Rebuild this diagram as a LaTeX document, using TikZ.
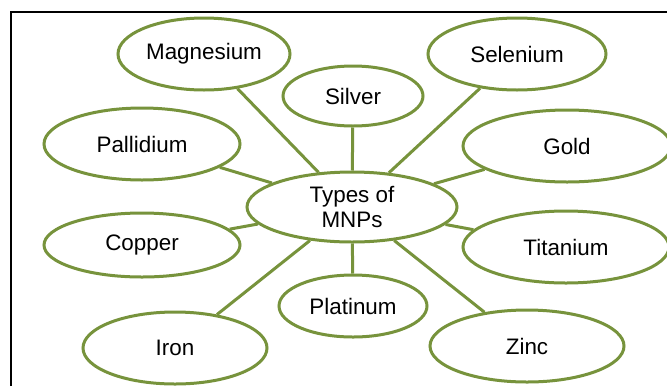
\documentclass[tikz,border=0pt]{standalone}
\usepackage{fontspec}
\setmainfont{Liberation Sans}
\usetikzlibrary{shapes.geometric}
\definecolor{mnpgreen}{HTML}{77933C}

\begin{document}
\begin{tikzpicture}[x=0.5pt,y=-0.5pt,
  metal/.style={ellipse,draw=mnpgreen,line width=1.5pt,fill=white,inner sep=0pt,
    font=\fontsize{11.2}{12.5}\selectfont,align=center},
  link/.style={draw=mnpgreen,line width=1.5pt}]
  \useasboundingbox (0,0) rectangle (667,386);
  % frame (only top and left edges show)
  \draw[line width=0.8pt] (11,386) -- (11,12) -- (667,12);
  % centre
  \node[metal,minimum width=105pt,minimum height=35pt] (mnp) at (352,207) {Types of\\MNPs};
  % the metals: name/x/y/width/height/label
  \foreach \n/\x/\y/\w/\h/\t in {
      mg/204/54/86/36/Magnesium, ag/353/96/70/30/Silver, se/517/54/89/36/Selenium,
      pd/142/144/98/36/Pallidium, au/567/146/104/36/Gold, cu/142/245/98/32/Copper,
      ti/566/247/103/36/Titanium, pt/353/306/74/31/Platinum, fe/175/348/92/36/Iron,
      zn/527/346/97/36/Zinc} {
    \node[metal,minimum width=\w pt,minimum height=\h pt] (\n) at (\x,\y) {\t};
  }
  \foreach \n in {mg,ag,se,pd,au,cu,ti,pt,fe,zn} \draw[link] (\n) -- (mnp);
\end{tikzpicture}
\end{document}
